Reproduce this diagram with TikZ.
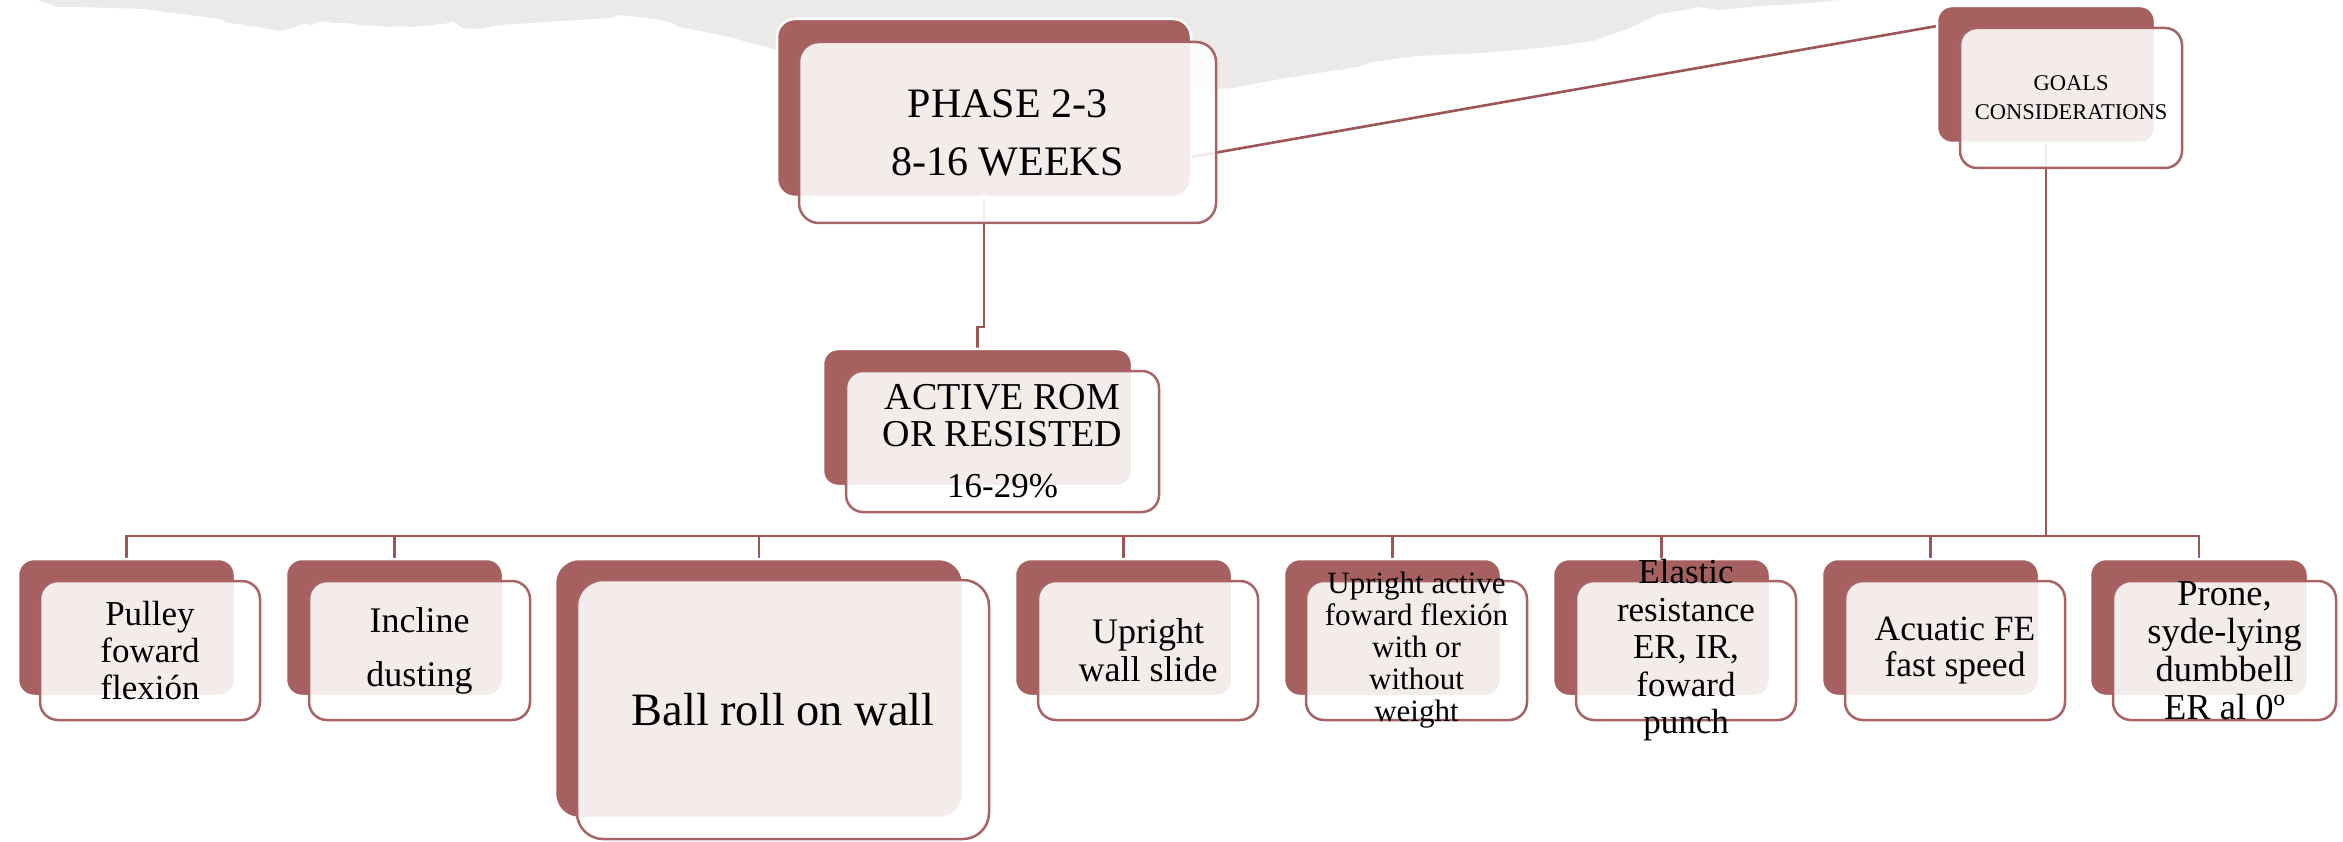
\documentclass[tikz,border=0pt]{standalone}
\usepackage{fontspec}
\setmainfont{Liberation Serif}
\usetikzlibrary{calc}

\definecolor{accent}{HTML}{A66060}
\definecolor{wire}{HTML}{9C5656}
\definecolor{rim}{HTML}{A86464}
\definecolor{paper}{HTML}{EBEAE8}

\tikzset{
  backbox/.style={rectangle, rounded corners=#1, fill=accent, draw=white,
    line width=2.5pt, inner sep=0pt, outer sep=0pt, anchor=north west},
  backbox/.default=16pt,
  frontbox/.style={rectangle, rounded corners=#1, fill=white, fill opacity=0.88,
    draw=rim, line width=2.5pt, inner sep=0pt, outer sep=0pt, anchor=north west},
  frontbox/.default=18pt,
  smallbox/.style={minimum width=217pt, minimum height=137pt},
  smallfront/.style={minimum width=220pt, minimum height=139pt},
  label/.style={align=center, text=black, inner sep=0pt},
  wire/.style={draw=wire, line width=2.6pt},
}

\begin{document}
\begin{tikzpicture}[x=1pt, y=-1pt]
  \useasboundingbox (0,0) rectangle (2343,842);
  \fill[white] (0,0) rectangle (2343,842);

  % torn paper band along the top edge
  \fill[paper] (38,0) -- (57,7) -- (78,7) -- (143,9) -- (220,19) -- (227,23)
    -- (240,24) -- (248,26) -- (258,27) -- (268,29) -- (280,31) -- (290,29)
    -- (302,24) -- (307,24) -- (310,26) -- (315,23) -- (325,21) -- (333,23)
    -- (347,23) -- (360,25) -- (392,27) -- (397,26) -- (413,27) -- (450,23)
    -- (453,21) -- (462,28) -- (480,29) -- (490,27) -- (500,25) -- (610,18)
    -- (620,15) -- (663,20) -- (680,27) -- (730,37) -- (747,42) -- (770,48)
    -- (800,60) -- (1000,80) -- (1217,89) -- (1233,88) -- (1280,79)
    -- (1357,67) -- (1373,62) -- (1417,56) -- (1483,53) -- (1550,47)
    -- (1593,41) -- (1627,29) -- (1640,23) -- (1660,14) -- (1690,9)
    -- (1697,7) -- (1720,10) -- (1760,6) -- (1800,4) -- (1840,0) -- cycle;

  % accent (back) boxes, placed first so connectors can reference them
  \path
    node[backbox=18pt, minimum width=414pt, minimum height=178pt] (phaseB) at (777,19) {}
    node[backbox=15pt, minimum width=218pt, minimum height=137pt] (goalsB) at (1937,6) {}
    node[backbox=15pt, minimum width=309pt, minimum height=137pt] (activeB) at (823,349) {}
    node[backbox, smallbox] (b1) at (18,559) {}
    node[backbox, smallbox] (b2) at (286,559) {}
    node[backbox=24pt, minimum width=408pt, minimum height=259pt] (b3) at (555,559) {}
    node[backbox, smallbox] (b4) at (1015,559) {}
    node[backbox, smallbox] (b5) at (1284,559) {}
    node[backbox, smallbox] (b6) at (1553,559) {}
    node[backbox, smallbox] (b7) at (1822,559) {}
    node[backbox, smallbox, minimum width=218pt] (b8) at (2090,559) {};

  % connectors
  \coordinate (busy) at (0,536);
  \coordinate (phaseOut) at ($(phaseB.south east)+(0,-40)$);
  \coordinate (goalsIn) at ($(goalsB.north west)+(0,20)$);
  \draw[wire] (phaseOut) -- (goalsIn);
  \draw[wire] (phaseB.south) -- ++(0,130) -| (activeB.north);
  \draw[wire] (goalsB.south) -- (goalsB.south |- busy);
  \draw[wire] (b1.north) -- (b1.north |- busy) -- (b8.north |- busy) -- (b8.north);
  \foreach \n in {b2,b3,b4,b5,b6,b7}
    \draw[wire] (\n.north |- busy) -- (\n.north);

  % redraw accent boxes over the connector ends
  \path
    node[backbox=18pt, minimum width=414pt, minimum height=178pt] at (777,19) {}
    node[backbox=15pt, minimum width=218pt, minimum height=137pt] at (1937,6) {}
    node[backbox=15pt, minimum width=309pt, minimum height=137pt] at (823,349) {}
    node[backbox, smallbox] at (18,559) {}
    node[backbox, smallbox] at (286,559) {}
    node[backbox=24pt, minimum width=408pt, minimum height=259pt] at (555,559) {}
    node[backbox, smallbox] at (1015,559) {}
    node[backbox, smallbox] at (1284,559) {}
    node[backbox, smallbox] at (1553,559) {}
    node[backbox, smallbox] at (1822,559) {}
    node[backbox, smallbox, minimum width=218pt] at (2090,559) {};

  % translucent front boxes
  \node[frontbox=20pt, minimum width=417pt, minimum height=181pt] (phase) at (799,42) {};
  \node[frontbox=17pt, minimum width=222pt, minimum height=140pt] (goals) at (1960,28) {};
  \node[frontbox=17pt, minimum width=313pt, minimum height=141pt] (active) at (846,371) {};
  \node[frontbox, smallfront] (f1) at (40,581) {};
  \node[frontbox, smallfront, minimum width=221pt] (f2) at (309,581) {};
  \node[frontbox=26pt, minimum width=412pt, minimum height=259pt] (f3) at (577,580) {};
  \node[frontbox, smallfront] (f4) at (1038,581) {};
  \node[frontbox, smallfront, minimum width=221pt] (f5) at (1306,581) {};
  \node[frontbox, smallfront] (f6) at (1576,581) {};
  \node[frontbox, smallfront] (f7) at (1845,581) {};
  \node[frontbox, smallfront, minimum width=223pt] (f8) at (2113,581) {};

  % texts
  \node[label, font=\fontsize{42}{58}\selectfont] (tphase) at (phase.center) {PHASE 2-3\\8-16 WEEKS};
  \node[label, font=\fontsize{22.5}{29}\selectfont] (tgoals) at (goals.center) {GOALS\\CONSIDERATIONS};
  \node[label, font=\fontsize{38}{37}\selectfont] (tactive) at (active.center)
    {ACTIVE ROM\\OR RESISTED\\[14pt]{\fontsize{35}{37}\selectfont 16-29\%}};
  \node[label, font=\fontsize{35}{37}\selectfont] (t1) at (f1.center) {Pulley\\foward\\flexión};
  \node[label, font=\fontsize{36}{54}\selectfont] (t2) at (f2.center) {Incline\\dusting};
  \node[label, font=\fontsize{46.4}{50}\selectfont] (t3) at (f3.center) {Ball roll on wall};
  \node[label, font=\fontsize{36}{38}\selectfont] (t4) at (f4.center) {Upright\\wall slide};
  \node[label, font=\fontsize{31}{32}\selectfont] (t5) at (f5.center) {Upright active\\foward flexión\\with or\\without\\weight};
  \node[label, font=\fontsize{35}{37.5}\selectfont] (t6) at (f6.center) {Elastic\\resistance\\ER, IR,\\foward\\punch};
  \node[label, font=\fontsize{35.5}{36}\selectfont] (t7) at (f7.center) {Acuatic FE\\fast speed};
  \node[label, font=\fontsize{36.5}{38}\selectfont] (t8) at (f8.center) {Prone,\\syde-lying\\dumbbell\\ER al 0º};
\end{tikzpicture}
\end{document}
